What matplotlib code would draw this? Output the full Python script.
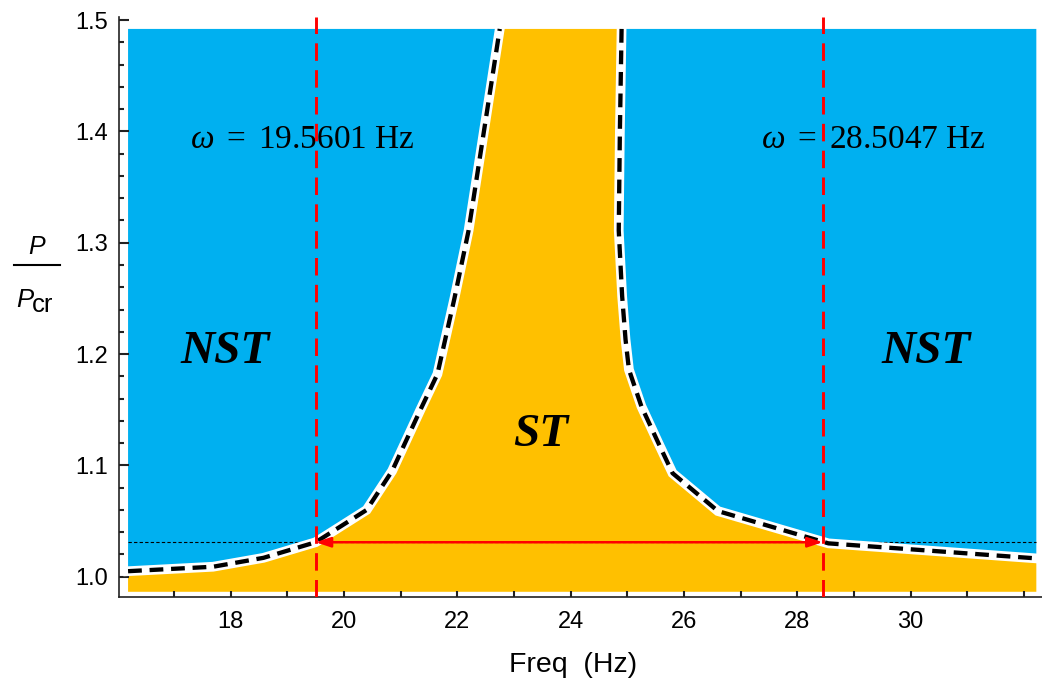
import matplotlib
matplotlib.use("Agg")
import matplotlib.pyplot as plt
from matplotlib.ticker import MultipleLocator, FormatStrFormatter
from matplotlib.lines import Line2D

# boundary between stable (ST) and non-stable (NST) regions
freq_left = [16.19, 17.69, 18.58, 19.50, 20.40, 20.85, 21.35, 21.65, 21.95, 22.20, 22.75]
p_left = [1.005, 1.009, 1.017, 1.031, 1.060, 1.095, 1.150, 1.182, 1.250, 1.311, 1.492]

freq_right = [24.90, 24.87, 24.85, 24.91, 24.97, 25.03, 25.25, 25.55, 25.80, 26.60, 28.55, 32.22]
p_right = [1.492, 1.400, 1.311, 1.252, 1.213, 1.186, 1.153, 1.120, 1.093, 1.059, 1.030, 1.0165]

p_top = 1.492
p_bottom = 0.9865
p_level = 1.031          # load ratio of the marked line
f_marks = [19.50, 28.45]  # where the red dashed lines sit
mark_labels = ["19.5601", "28.5047"]

plt.rcParams['font.family'] = ['Liberation Sans', 'DejaVu Sans']
plt.rcParams['mathtext.fontset'] = 'custom'
plt.rcParams['mathtext.rm'] = 'Liberation Serif'
plt.rcParams['mathtext.it'] = 'Liberation Serif:italic'

fig = plt.figure(figsize=(10.42, 6.86), dpi=100)
ax = fig.add_axes([0.1142, 0.1297, 0.8858, 0.8455])

blue = '#00B0F0'
orange = '#FFC000'

# regions
f0, f1 = freq_left[0], freq_right[-1]
ax.fill([f0] + freq_left + [f0], [p_left[0]] + p_left + [p_top], color=blue, lw=0, zorder=1)
ax.fill(freq_right + [f1], p_right + [p_top], color=blue, lw=0, zorder=1)
ax.fill([f0] + freq_left + freq_right + [f1],
        [p_bottom] + p_left + p_right + [p_bottom], color=orange, lw=0, zorder=1)

# horizontal reference level
ax.plot([f0, f1], [p_level, p_level], color='black', lw=0.8, ls=(0, (3, 2)), zorder=2)

# boundary curves: white halo + black dashes
for fx, py in [(freq_left, p_left), (freq_right, p_right)]:
    ax.plot(fx, py, color='white', lw=7, solid_joinstyle='miter', zorder=3)
    ax.plot(fx, py, color='black', lw=3.1, ls=(0, (3.2, 1.8)), zorder=4)

# red markers
for fm in f_marks:
    ax.axvline(fm, color='red', lw=2.1, ls=(0, (6, 3.2)), zorder=6)
ax.annotate('', xy=(f_marks[0], p_level), xytext=(f_marks[1], p_level),
            arrowprops=dict(arrowstyle='<|-|>,head_length=0.9,head_width=0.3',
                            color='red', lw=1.8, shrinkA=0, shrinkB=0), zorder=6)

# annotations
for x, lab in [(19.27, mark_labels[0]), (29.35, mark_labels[1])]:
    ax.text(x, 1.385, r'$\omega\ =\ ' + lab + r'\ \mathrm{Hz}$', fontsize=24,
            ha='center', va='baseline', zorder=5)
for x, y, s in [(17.91, 1.202, 'NST'), (30.27, 1.202, 'NST'), (23.47, 1.127, 'ST')]:
    ax.text(x, y, s, fontsize=34, family='Liberation Serif', style='italic',
            weight='bold', ha='center', va='center', zorder=5)

# axes
ax.set_xlim(16.03, 32.32)
ax.set_ylim(0.9818, 1.5027)
for s in ['top', 'right']:
    ax.spines[s].set_visible(False)
for s in ['left', 'bottom']:
    ax.spines[s].set_linewidth(1.2)
    ax.spines[s].set_color('#222222')

ax.set_xticks([18, 20, 22, 24, 26, 28, 30])
ax.xaxis.set_minor_locator(MultipleLocator(1))
ax.yaxis.set_major_locator(MultipleLocator(0.1))
ax.yaxis.set_minor_locator(MultipleLocator(0.02))
ax.yaxis.set_major_formatter(FormatStrFormatter('%.1f'))
ax.tick_params(axis='y', which='major', direction='in', length=7, width=1.5, pad=8,
               labelsize=17, color='#222222')
ax.tick_params(axis='y', which='minor', direction='in', length=3.5, width=1.5, color='#222222')
ax.tick_params(axis='x', which='both', direction='in', length=4, width=1.5, pad=10,
               labelsize=17, color='#222222')

fig.text(573 / 1042, 1 - 671.7 / 686, 'Freq  (Hz)', fontsize=20.5, ha='center', va='baseline')

# y label as a stacked fraction P / P_cr
fig.text(37 / 1042, 1 - 254 / 686, 'P', fontsize=18, style='italic', ha='center', va='baseline')
fig.add_artist(Line2D([14 / 1042, 60 / 1042], [1 - 265 / 686, 1 - 265 / 686],
                      color='black', lw=1.5))
fig.text(16 / 1042, 1 - 307 / 686, 'P', fontsize=18.5, style='italic', ha='left', va='baseline')
fig.text(32 / 1042, 1 - 312 / 686, 'cr', fontsize=18.5, ha='left', va='baseline')

fig.savefig('out.png', dpi=100)
